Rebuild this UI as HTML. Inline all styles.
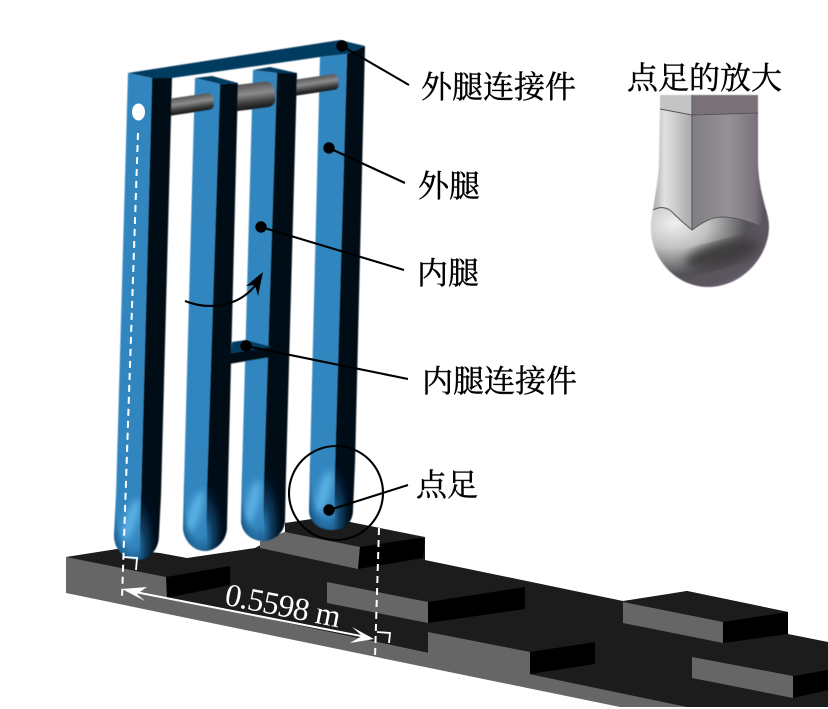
<!DOCTYPE html>
<html>
<head>
<meta charset="utf-8">
<style>
html,body{margin:0;padding:0;background:#fff;width:828px;height:709px;overflow:hidden}
svg{display:block}
.z{font-family:"Liberation Serif","Noto Serif CJK SC",serif;font-size:31px;fill:#000;stroke:#000;stroke-width:.4px}
</style>
</head>
<body>
<svg width="828" height="709" viewBox="0 0 828 709" xmlns="http://www.w3.org/2000/svg">
<defs>
<radialGradient id="gB" cx=".7" cy=".2" r=".95">
<stop offset="0" stop-color="#0c4570" stop-opacity="0"/><stop offset=".62" stop-color="#0c4570" stop-opacity="0"/><stop offset=".85" stop-color="#0c4570" stop-opacity=".55"/><stop offset="1" stop-color="#0a3d66" stop-opacity=".95"/>
</radialGradient>
<radialGradient id="gD" cx="0" cy=".8" r=".95">
<stop offset="0" stop-color="#2a7db5"/><stop offset=".4" stop-color="#0c3a5c"/><stop offset=".8" stop-color="#01101e"/><stop offset="1" stop-color="#010c18"/>
</radialGradient>
<linearGradient id="gR" x1="0" y1="0" x2="0" y2="1">
<stop offset="0" stop-color="#555"/><stop offset=".4" stop-color="#8c8c8c"/><stop offset=".75" stop-color="#3a3a3a"/><stop offset="1" stop-color="#151515"/>
</linearGradient>
<linearGradient id="fL" x1="0" y1="0" x2="1" y2="0">
<stop offset="0" stop-color="#a8a8a8"/><stop offset=".3" stop-color="#e2e2e2"/><stop offset="1" stop-color="#a9a9ab"/>
</linearGradient>
<linearGradient id="fR" x1="0" y1="0" x2="1" y2="0">
<stop offset="0" stop-color="#807e82"/><stop offset=".5" stop-color="#959295"/><stop offset=".85" stop-color="#7b747d"/><stop offset="1" stop-color="#544b5a"/>
</linearGradient>
<radialGradient id="fS" cx=".22" cy=".25" r=".9">
<stop offset="0" stop-color="#f0f0f0"/><stop offset=".3" stop-color="#c2c2c2"/><stop offset=".62" stop-color="#555357"/><stop offset=".8" stop-color="#5c5560"/><stop offset="1" stop-color="#7b7482"/>
</radialGradient>
<filter id="b"><feGaussianBlur stdDeviation=".5"/></filter>
<filter id="b2"><feGaussianBlur stdDeviation="5"/></filter>
<filter id="b3" x="-100%" y="-50%" width="300%" height="200%"><feGaussianBlur stdDeviation="3.5"/></filter>
<clipPath id="cg"><rect x="0" y="0" width="828" height="707"/></clipPath>
<clipPath id="f4"><path d="M310,463 L335,463 L334,530 L332,530 C319,530 309,522 309,510Z"/></clipPath>
<clipPath id="f3"><path d="M242,473 L264,473 L263,541 C251,541 241,532 241,520Z"/></clipPath>
<clipPath id="f2"><path d="M184,483 L207,483 L206,551 L205,551 C193,551 183,540 183,527Z"/></clipPath>
<clipPath id="f1"><path d="M116,495 L141,495 L139,560 L137,560 C125,560 114,550 114,535Z"/></clipPath>
<clipPath id="cs"><path d="M653,210 C660,206 668,207 673,213 C680,220 687,226 692,230 C700,224 710,217 722,217 C735,217 750,222 760,226 L766,210 C770,222 770,232 766,244 C758,268 735,287 708,287 C682,287 660,268 653,244 C650,232 650,222 653,210Z"/></clipPath>
</defs>

<!-- ground -->
<g clip-path="url(#cg)">
<polygon points="66,557 117,549 160,553 187,558 255,548 285,532 425,538 425,560 623,601 687,591 788,612 788,634 828,642 828,709 687,709 428,653 168,598" fill="#1c1c1c"/>
<polygon points="66,557 166,577 168,598 428,653 687,707 620,707 420,666 66,593" fill="#666"/>
<polygon points="166,577 230,566 230,585 167,598" fill="#000"/>
<!-- block 1 -->
<polygon points="285,532 285,523 325,517 425,537 360,547" fill="#1c1c1c"/>
<polygon points="260,541 285,532 360,547 358,569 260,548" fill="#666"/>
<polygon points="360,547 425,537 423,558 358,569" fill="#000"/>
<!-- block 3 -->
<polygon points="327,582 428,602 428,623 327,603" fill="#666"/>
<polygon points="428,602 525,587 525,609 428,623" fill="#000"/>
<!-- block 4 -->
<polygon points="428,632 530,652 530,675 428,653" fill="#666"/>
<polygon points="530,652 595,642 595,664 530,674" fill="#000"/>
<!-- block 5 -->
<polygon points="623,602 687,591 788,612 723,622" fill="#1c1c1c"/>
<polygon points="623,602 723,622 723,643 623,623" fill="#666"/>
<polygon points="723,622 788,612 788,634 723,643" fill="#000"/>
<!-- block 6 -->
<polygon points="692,657 793,676 793,698 692,678" fill="#666"/>
<polygon points="793,676 828,670 828,690 793,698" fill="#000"/>
</g>

<g filter="url(#b)">
<!-- blue faces -->
<polygon points="320,57 347,54 335,464 310,464" fill="#3386bf"/>
<path d="M310,463 L335,463 L334,530 L332,530 C319,530 309,522 309,510Z" fill="#3386bf"/>
<g clip-path="url(#f4)"><ellipse cx="324" cy="492" rx="6" ry="22" fill="#5ab0e4" filter="url(#b3)" transform="rotate(16 324 492)"/></g>
<path d="M310,463 L335,463 L334,530 L332,530 C319,530 309,522 309,510Z" fill="url(#gB)"/>

<polygon points="253,70 277,73 264,474 242,474" fill="#3386bf"/>
<path d="M242,473 L264,473 L263,541 C251,541 241,532 241,520Z" fill="#3386bf"/>
<g clip-path="url(#f3)"><ellipse cx="253" cy="502" rx="6" ry="22" fill="#5ab0e4" filter="url(#b3)" transform="rotate(14 253 502)"/></g>
<path d="M242,473 L264,473 L263,541 C251,541 241,532 241,520Z" fill="url(#gB)"/>

<polygon points="195,78 220,84 207,484 184,484" fill="#3386bf"/>
<path d="M184,483 L207,483 L206,551 L205,551 C193,551 183,540 183,527Z" fill="#3386bf"/>
<g clip-path="url(#f2)"><ellipse cx="195" cy="512" rx="6" ry="22" fill="#5ab0e4" filter="url(#b3)" transform="rotate(18 195 512)"/></g>
<path d="M184,483 L207,483 L206,551 L205,551 C193,551 183,540 183,527Z" fill="url(#gB)"/>

<polygon points="128,73 152,78 141,496 116,496" fill="#3386bf"/>
<path d="M116,495 L141,495 L139,560 L137,560 C125,560 114,550 114,535Z" fill="#3386bf"/>
<g clip-path="url(#f1)"><ellipse cx="131" cy="520" rx="6" ry="22" fill="#5ab0e4" filter="url(#b3)" transform="rotate(18 131 520)"/></g>
<path d="M116,495 L141,495 L139,560 L137,560 C125,560 114,550 114,535Z" fill="url(#gB)"/>

<!-- rods -->
<g transform="translate(165,108) rotate(-8.5)"><rect x="0" y="-8.5" width="49" height="17" rx="5" fill="url(#gR)"/></g>
<g transform="translate(225,99.5) rotate(-7)"><rect x="0" y="-13" width="50" height="26" rx="8" fill="url(#gR)"/></g>
<g transform="translate(290,88.5) rotate(-8.5)"><rect x="0" y="-8" width="49" height="16" rx="5" fill="url(#gR)"/></g>

<!-- dark faces -->
<polygon points="347,54 365,46 355,464 335,464" fill="#010c18"/>
<path d="M335,463 L355,463 L353,510 C353,522 345,530 332,530 L334,530Z" fill="url(#gD)"/>
<polygon points="277,73 297,73 286,474 264,474" fill="#010c18"/>
<path d="M264,473 L286,473 L285,520 C285,532 275,541 263,541Z" fill="url(#gD)"/>
<polygon points="220,84 238,83 228,484 207,484" fill="#010c18"/>
<path d="M207,483 L228,483 L227,527 C227,540 217,551 205,551 L206,551Z" fill="url(#gD)"/>
<polygon points="152,78 172,78 161,496 141,496" fill="#010c18"/>
<path d="M141,495 L161,495 L159,535 C159,550 149,560 137,560 L139,560Z" fill="url(#gD)"/>

<!-- caps and top bar -->
<polygon points="195,78 212,76 238,83 220,84" fill="#033a60"/>
<polygon points="253,70 270,67 297,73 277,73" fill="#033a60"/>
<polygon points="128,73 340,40 365,46 347,54 320,57 172,78 152,78" fill="#033a60"/>

<!-- inner connector -->
<polygon points="232,342 246,340 272,347 231,353" fill="#033a60"/>
<polygon points="231,353 272,347 271,357 229,364" fill="#010c18"/>
</g>

<!-- white hole -->
<ellipse cx="138.5" cy="112" rx="6.5" ry="8.5" fill="#fff"/>

<!-- dimension lines -->
<line x1="138" y1="133" x2="122" y2="598" stroke="#fff" stroke-width="2" stroke-dasharray="7 5"/>
<line x1="379" y1="528" x2="375" y2="657" stroke="#fff" stroke-width="2" stroke-dasharray="7 5"/>
<polyline points="123,557 137,558 136,570" fill="none" stroke="#fff" stroke-width="1.8"/>
<polyline points="377,632 390,633 389,643" fill="none" stroke="#fff" stroke-width="1.8"/>
<line x1="130" y1="591" x2="366" y2="637" stroke="#fff" stroke-width="2"/>
<polygon points="122,589 147,587 137,594 145,601" fill="#fff"/>
<polygon points="374,639 352,627 362,636 350,643" fill="#fff"/>
<text transform="translate(281,616) rotate(11.3)" text-anchor="middle" textLength="117" lengthAdjust="spacing" style="font-family:'Liberation Serif',serif;font-size:32px;fill:#fff">0.5598 m</text>

<!-- leaders -->
<g stroke="#000" stroke-width="2.1" fill="none">
<line x1="342" y1="46" x2="409" y2="85"/>
<line x1="329" y1="148" x2="405" y2="183"/>
<line x1="261" y1="227" x2="404" y2="270"/>
<line x1="246" y1="346" x2="408" y2="379"/>
<line x1="329" y1="510" x2="408" y2="485"/>
<circle cx="336" cy="493" r="47"/>
<path d="M185,301 C205,309 238,310 258,282"/>
</g>
<polygon points="263,272 246,286 255,285 258,296" fill="#000"/>
<g fill="#000">
<circle cx="342" cy="46" r="5.7"/>
<circle cx="329" cy="148" r="5.7"/>
<circle cx="261" cy="227" r="5.7"/>
<circle cx="246" cy="346" r="5.7"/>
<circle cx="329" cy="510" r="5.7"/>
</g>

<!-- labels -->
<text class="z" x="421" y="98">外腿连接件</text>
<text class="z" x="418" y="197">外腿</text>
<text class="z" x="417" y="284">内腿</text>
<text class="z" x="422" y="392">内腿连接件</text>
<text class="z" x="416" y="496">点足</text>
<text class="z" x="627" y="89">点足的放大</text>

<!-- enlarged foot -->
<g filter="url(#b)">
<polygon points="660,95 692,95 692,115 660,109" fill="#c4c4c4"/>
<polygon points="692,95 758,95 758,113 692,115" fill="#787178"/>
<path d="M660,109 L692,115 L692,230 C687,226 680,220 673,213 C668,207 660,206 653,210 C656,190 659,175 659,160Z" fill="url(#fL)"/>
<path d="M692,115 L758,113 L758,160 C758,180 762,195 766,210 L760,226 C750,222 735,217 722,217 C710,217 700,224 692,230Z" fill="url(#fR)"/>
<rect x="645" y="200" width="130" height="92" fill="url(#fS)" clip-path="url(#cs)"/>
<g clip-path="url(#cs)"><ellipse cx="722" cy="254" rx="38" ry="12" fill="#3f3d40" filter="url(#b2)" transform="rotate(-15 722 254)"/></g>
</g>
<g fill="none" stroke="#55525a" stroke-width="1">
<polyline points="660,109 692,115 758,113"/>
<line x1="692" y1="95" x2="692" y2="230"/>
<path d="M653,210 C660,206 668,207 673,213 C680,220 687,226 692,230 C700,224 710,217 722,217 C735,217 750,222 760,226 L766,210"/>
</g>
</svg>
</body>
</html>
